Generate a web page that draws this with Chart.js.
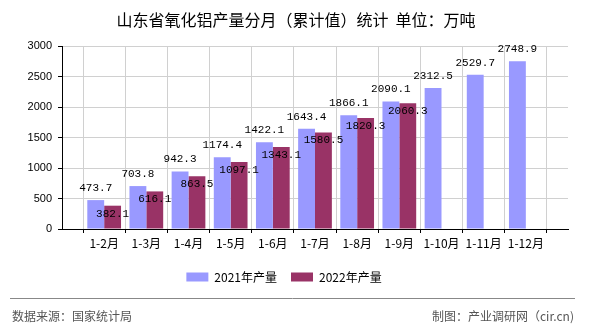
<!DOCTYPE html>
<html>
<head>
<meta charset="utf-8">
<script src="https://cdn.jsdelivr.net/npm/chart.js@4"></script>
<style>
  html, body { margin: 0; padding: 0; background: #fff; }
  #wrap { width: 590px; height: 330px; position: relative; }
</style>
</head>
<body>
<div id="wrap"><canvas id="grafico" width="590" height="330"></canvas></div>
<script>
// dados
const meses = ['1-2月', '1-3月', '1-4月', '1-5月', '1-6月', '1-7月', '1-8月', '1-9月', '1-10月', '1-11月', '1-12月'];
const producao2021 = [473.7, 703.8, 942.3, 1174.4, 1422.1, 1643.4, 1866.1, 2090.1, 2312.5, 2529.7, 2748.9];
const producao2022 = [382.1, 616.1, 863.5, 1097.1, 1343.1, 1580.5, 1820.3, 2060.3, null, null, null];
const ticksY = [0, 500, 1000, 1500, 2000, 2500, 3000];
const nomesSeries = ['2021年产量', '2022年产量'];

const titulo = '山东省氧化铝产量分月（累计值）统计  单位：万吨';
const fonte = '数据来源：国家统计局';
const autoria = '制图：产业调研网（cir.cn)';

const fonteCJK = '"Noto Sans CJK SC", "Noto Sans", sans-serif';

// eixo com uma posição vazia em cada ponta
const rotulos = [''].concat(meses, ['']);
const serie2021 = [null].concat(producao2021, [null]);
const serie2022 = [null].concat(producao2022, [null]);

// rótulos de valor, título e rodapé
const pluginDecor = {
  id: 'decor',
  afterDatasetsDraw(chart) {
    const ctx = chart.ctx;
    ctx.save();
    ctx.font = '11px "Liberation Mono", "DejaVu Sans Mono", monospace';
    ctx.fillStyle = '#000';
    ctx.textAlign = 'center';
    ctx.textBaseline = 'middle';
    chart.data.datasets.forEach(function (ds, i) {
      const meta = chart.getDatasetMeta(i);
      meta.data.forEach(function (bar, j) {
        const v = ds.data[j];
        if (v === null || v === undefined) return;
        const y = i === 0 ? bar.y - 12 : bar.y + 8;
        ctx.fillText(v.toFixed(1), bar.x, y);
      });
    });
    ctx.restore();
  },
  afterDraw(chart) {
    const ctx = chart.ctx;
    ctx.save();
    ctx.fillStyle = '#000';
    ctx.font = '16px ' + fonteCJK;
    ctx.textAlign = 'center';
    ctx.textBaseline = 'middle';
    ctx.fillText(titulo, 296, 20);

    ctx.strokeStyle = '#888';
    ctx.lineWidth = 1;
    ctx.beginPath();
    ctx.moveTo(10, 298.5);
    ctx.lineTo(575, 298.5);
    ctx.stroke();

    ctx.fillStyle = '#555';
    ctx.font = '12px ' + fonteCJK;
    ctx.textAlign = 'left';
    ctx.fillText(fonte, 12, 316);
    ctx.textAlign = 'right';
    ctx.fillText(autoria, 574, 316);
    ctx.restore();
  }
};

const ctx = document.getElementById('grafico');
const grafico = new Chart(ctx, {
  type: 'bar',
  data: {
    labels: rotulos,
    datasets: [
      {
        label: nomesSeries[0],
        data: serie2021,
        backgroundColor: '#9999FF',
        barPercentage: 1,
        categoryPercentage: 0.8
      },
      {
        label: nomesSeries[1],
        data: serie2022,
        backgroundColor: '#993366',
        barPercentage: 1,
        categoryPercentage: 0.8
      }
    ]
  },
  options: {
    responsive: false,
    animation: false,
    devicePixelRatio: 1,
    layout: { padding: { top: 46, right: 22, bottom: 37, left: 0 } },
    plugins: {
      title: { display: false },
      tooltip: { enabled: false },
      legend: {
        position: 'bottom',
        labels: {
          boxWidth: 22,
          boxHeight: 9,
          padding: 14,
          color: '#000',
          font: { family: fonteCJK, size: 12 }
        }
      }
    },
    scales: {
      x: {
        offset: false,
        afterFit(scale) { scale.height = 28; },
        grid: { color: '#d0d0d0', tickColor: '#000', tickLength: 4, drawTicks: true },
        border: { color: '#000', width: 1 },
        ticks: {
          color: '#000',
          padding: 3,
          maxRotation: 0,
          autoSkip: false,
          font: { family: fonteCJK, size: 12 }
        }
      },
      y: {
        min: 0,
        max: 3000,
        afterFit(scale) { scale.width = 62; },
        afterBuildTicks(scale) { scale.ticks = ticksY.map(function (v) { return { value: v }; }); },
        grid: { color: '#d0d0d0', tickColor: '#000', tickLength: 4 },
        border: { color: '#000', width: 1 },
        ticks: {
          color: '#000',
          padding: 6,
          font: { family: '"Liberation Sans", Arial, sans-serif', size: 11 },
          callback: function (v) { return String(v); }
        }
      }
    }
  },
  plugins: [pluginDecor]
});
</script>
</body>
</html>
